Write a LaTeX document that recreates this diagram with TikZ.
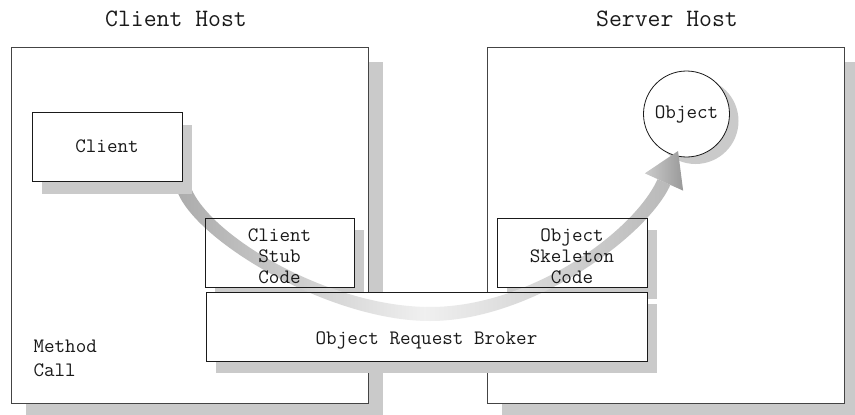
\documentclass[tikz,border=0pt]{standalone}
\usepackage{fontspec}
\usepackage{tikz}
\usetikzlibrary{calc,shadows}
\definecolor{ink}{HTML}{1A1A1A}
\definecolor{frame}{HTML}{444444}
\definecolor{shadowgray}{HTML}{CACACA}
\pgfdeclarelayer{bg}
\pgfsetlayers{bg,main}
\newcommand{\topgap}{\rule{0pt}{21pt}}
\tikzset{
  hostbox/.style={draw=frame, line width=0.8pt, fill=white, inner sep=0pt,
    minimum width=357pt, minimum height=356pt,
    drop shadow={shadow xshift=15pt, shadow yshift=-15pt, fill=shadowgray, opacity=1}},
  cbox/.style={draw=ink, line width=0.8pt, inner sep=0pt, align=center, text=ink,
    minimum width=150pt, minimum height=69pt, font=\ttfamily\fontsize{20.5}{21}\selectfont},
  lab/.style={text=ink, font=\ttfamily\fontsize{20.5}{24}\selectfont},
  head/.style={text=ink, font=\ttfamily\fontsize{25}{26}\selectfont},
}

\begin{document}
\begin{tikzpicture}[x=1pt,y=-1pt]
  \useasboundingbox (0,0) rectangle (855,415);

  % the two hosts
  \begin{pgfonlayer}{bg}
    \node[hostbox] (chost) at (189.5,225) {};
    \node[hostbox] (shost) at (665.5,225) {};
  \end{pgfonlayer}
  \node[head,anchor=base] (chead) at (176,27) {Client Host};
  \node[head,anchor=base] (shead) at (667,27) {Server Host};

  \node[cbox, fill=white, drop shadow={shadow xshift=10pt, shadow yshift=-13pt, fill=shadowgray, opacity=1}] (client) at (107,146.5) {Client};
  \node[cbox, minimum width=149pt] (stub) at (279.5,252.5) {\topgap Client\\Stub\\Code};
  \node[cbox] (skel) at (572,252.5) {\topgap Object\\Skeleton\\Code};
  \node[cbox, minimum width=441pt, text height=40pt, text depth=4pt] (orb) at (426.5,326.5) {Object Request Broker};
  \node[lab, anchor=base west, align=left] (call) at (30,376) {Method\\Call};
  \node[cbox, circle, fill=white, minimum size=86pt, drop shadow={shadow xshift=9pt, shadow yshift=-7pt, fill=shadowgray, opacity=1}] (obj) at (686.5,114) {Object};

  % shadows and fills under the middleware boxes
  \begin{pgfonlayer}{bg}
    \foreach \n in {stub,skel,orb}
      \fill[shadowgray] ($(\n.south west)+(10,12)$) rectangle ($(\n.north east)+(10,12)$);
    \foreach \n in {stub,skel,orb}
      \fill[white] (\n.south west) rectangle (\n.north east);
  \end{pgfonlayer}

  % call path (centre line, then both edges)
  \coordinate (p0) at ($(client.south east)+(2,9)$);
  \coordinate (c1) at (205,240);
  \coordinate (c2) at (330,314);
  \coordinate (p1) at (430,314);
  \coordinate (c3) at (530,314);
  \coordinate (c4) at (640,235);
  \coordinate (p2) at ($(obj.center)+(-22.5,68)$);
  \foreach \e/\r/\s in {a/90/-90,b/-90/90} {
    \coordinate (\e0) at ($(p0)!7pt!\r:(c1)$);
    \coordinate (\e3) at ($(p1)!7pt!\r:(c3)$);
    \coordinate (\e6) at ($(p2)!7pt!\s:(c4)$);
    \coordinate (\e1) at ($(c1)+(\e0)-(p0)$);
    \coordinate (\e2) at ($(c2)+(\e3)-(p1)$);
    \coordinate (\e4) at ($(c3)+(\e3)-(p1)$);
    \coordinate (\e5) at ($(c4)+(\e6)-(p2)$);
  }
  \begin{pgfonlayer}{bg}
    \shade[left color=gray!65, right color=gray!55, middle color=gray!12]
      (a0) .. controls (a1) and (a2) .. (a3) .. controls (a4) and (a5) .. (a6)
      -- (b6) .. controls (b5) and (b4) .. (b3) .. controls (b2) and (b1) .. (b0) -- cycle;
  \end{pgfonlayer}
  \coordinate (tip) at ($(p2)!-34pt!(c4)$);
  \coordinate (hl) at ($(p2)!21pt!90:(c4)$);
  \coordinate (hr) at ($(p2)!21pt!-90:(c4)$);
  \shade[left color=gray!40, right color=gray!80] (hl) -- (tip) -- (hr) -- cycle;
\end{tikzpicture}
\end{document}
